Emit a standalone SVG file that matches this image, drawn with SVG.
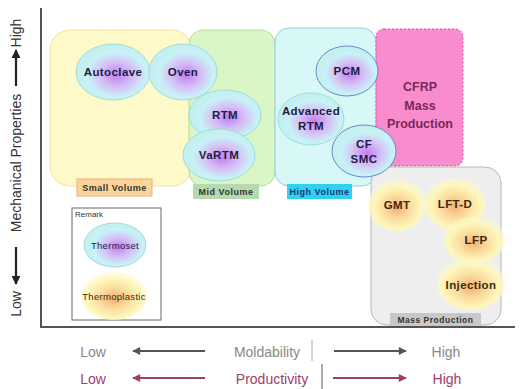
<svg xmlns="http://www.w3.org/2000/svg" width="520" height="389" viewBox="0 0 520 389">
<defs>
<radialGradient id="ts" cx="0.55" cy="0.55" r="0.5">
<stop offset="0" stop-color="#c07ef0"/>
<stop offset="0.45" stop-color="#d6c0f6"/>
<stop offset="0.8" stop-color="#c8f2f6"/>
<stop offset="1" stop-color="#c4f0f0"/>
</radialGradient>
<radialGradient id="tp" cx="0.5" cy="0.55" r="0.5">
<stop offset="0" stop-color="#f6b070"/>
<stop offset="0.45" stop-color="#fbdca0"/>
<stop offset="0.8" stop-color="#fdf6b8"/>
<stop offset="1" stop-color="#fdf8c8" stop-opacity="0.6"/>
</radialGradient>
<marker id="ag" viewBox="0 0 10 10" refX="9" refY="5" markerWidth="5" markerHeight="4" orient="auto-start-reverse">
<path d="M0,0 L10,5 L0,10 z" fill="#555"/>
</marker>
<marker id="ap" viewBox="0 0 10 10" refX="9" refY="5" markerWidth="5" markerHeight="4" orient="auto-start-reverse">
<path d="M0,0 L10,5 L0,10 z" fill="#a23c6a"/>
</marker>
<marker id="ay" viewBox="0 0 10 10" refX="9" refY="5" markerWidth="4" markerHeight="4.5" orient="auto-start-reverse">
<path d="M0,0 L10,5 L0,10 z" fill="#222"/>
</marker>
</defs>
<style>
text{font-family:"Liberation Sans",Arial,sans-serif}
.ell{fill:url(#ts);stroke:#9edcdc;stroke-width:1}
.elt{fill:url(#tp);stroke:none}
.nt{font-size:11.5px;font-weight:bold;fill:#1c1c44;text-anchor:middle;letter-spacing:0.4px}
.lab{font-size:9px;font-weight:bold;fill:#333;text-anchor:middle;letter-spacing:0.5px}
.ax{font-size:14px;text-anchor:middle}
</style>
<rect width="520" height="389" fill="#fff"/>
<!-- axes -->
<g id="axes" stroke="#555" stroke-width="2" fill="none">
<path d="M41,8 V327 H515"/>
</g>
<g id="yaxis-label">
<text class="ax" transform="translate(21,163) rotate(-90)" fill="#333">Mechanical Properties</text>
<text class="ax" transform="translate(21,304) rotate(-90)" fill="#333">Low</text>
<text class="ax" transform="translate(21,33) rotate(-90)" fill="#333">High</text>
<line x1="16" y1="247" x2="16" y2="284" stroke="#222" stroke-width="2.2" marker-end="url(#ay)"/>
<line x1="16" y1="86" x2="16" y2="50" stroke="#222" stroke-width="2.2" marker-end="url(#ay)"/>
</g>
<!-- regions -->
<g id="small-volume">
<rect x="50" y="30" width="142" height="156" rx="20" fill="#fdf9c8" stroke="#f2e0a4"/>
</g>
<g id="mid-volume">
<rect x="189" y="30" width="86" height="156" rx="14" fill="#daf5c6" stroke="#b4dca0"/>
</g>
<g id="high-volume">
<rect x="275" y="28" width="101" height="158" rx="14" fill="#d8f8f8" stroke="#94cce0"/>
</g>
<g id="cfrp-mass-production">
<rect x="376" y="29" width="87" height="137" rx="8" fill="#f98ccc" stroke="#e040a8" stroke-dasharray="2,2"/>
<text x="420" y="91" class="nt" style="fill:#7a2858;font-size:12.5px;letter-spacing:0">CFRP</text>
<text x="420" y="110" class="nt" style="fill:#7a2858;font-size:12.5px;letter-spacing:0">Mass</text>
<text x="420" y="128" class="nt" style="fill:#7a2858;font-size:12.5px;letter-spacing:0">Production</text>
</g>
<g id="mass-production">
<rect x="371" y="167" width="130" height="158" rx="16" fill="#eeeeee" stroke="#b8b8b8"/>
</g>
<!-- region labels -->
<g id="small-volume-label">
<rect x="77" y="179" width="75" height="17" fill="#fbd49a" stroke="#efb074"/>
<text x="114.5" y="191" class="lab">Small Volume</text>
</g>
<g id="mid-volume-label">
<rect x="193" y="184" width="66" height="15" fill="#b6dab0"/>
<text x="226" y="195" class="lab">Mid Volume</text>
</g>
<g id="high-volume-label">
<rect x="287" y="184" width="65" height="15" fill="#30d0f2"/>
<text x="319.5" y="195" class="lab" style="fill:#1a3a70">High Volume</text>
</g>
<g id="mass-production-label">
<rect x="390" y="313" width="91" height="13" fill="#c8c8c8"/>
<text x="435.5" y="323" class="lab" style="font-size:8.5px">Mass Production</text>
</g>
<!-- thermoset nodes -->
<g id="autoclave"><ellipse cx="113" cy="72" rx="37" ry="28" class="ell"/><text x="113" y="76" class="nt">Autoclave</text></g>
<g id="oven"><ellipse cx="183" cy="72" rx="34" ry="28" class="ell"/><text x="183" y="76" class="nt">Oven</text></g>
<g id="rtm"><ellipse cx="225" cy="115" rx="36" ry="25" class="ell"/><text x="225" y="119" class="nt">RTM</text></g>
<g id="vartm"><ellipse cx="219" cy="155" rx="36" ry="26" class="ell"/><text x="219" y="159" class="nt">VaRTM</text></g>
<g id="pcm"><ellipse cx="347" cy="71" rx="31" ry="25" class="ell" style="stroke:#6a88c8"/><text x="347" y="75" class="nt">PCM</text></g>
<g id="advanced-rtm"><ellipse cx="311" cy="119" rx="33" ry="26" class="ell"/><text x="311" y="115" class="nt">Advanced</text><text x="311" y="130" class="nt">RTM</text></g>
<g id="cf-smc"><ellipse cx="364" cy="151" rx="32" ry="26" class="ell" style="stroke:#6a88c8"/><text x="364" y="148" class="nt">CF</text><text x="364" y="163" class="nt">SMC</text></g>
<!-- thermoplastic nodes -->
<g id="gmt"><ellipse cx="397" cy="205" rx="29" ry="26" class="elt"/><text x="397" y="209" class="nt" style="fill:#3a2a10">GMT</text></g>
<g id="lft-d"><ellipse cx="455" cy="204" rx="31" ry="26" class="elt"/><text x="455" y="208" class="nt" style="fill:#3a2a10">LFT-D</text></g>
<g id="lfp"><ellipse cx="474" cy="240" rx="31" ry="23" class="elt"/><text x="476" y="244" class="nt" style="fill:#3a2a10">LFP</text></g>
<g id="injection"><ellipse cx="471" cy="284" rx="34" ry="26" class="elt"/><text x="471" y="289" class="nt" style="fill:#3a2a10">Injection</text></g>
<!-- remark -->
<g id="remark">
<rect x="72" y="208" width="89" height="112" fill="#fff" stroke="#666"/>
<text x="75" y="217" style="font-size:8px;fill:#333">Remark</text>
<ellipse cx="115" cy="245" rx="31" ry="22" class="ell"/>
<text x="115" y="248.5" class="nt" style="font-size:9.5px;font-weight:normal;letter-spacing:0.3px">Thermoset</text>
<ellipse cx="114" cy="296" rx="33" ry="24" class="elt"/>
<text x="114" y="299.5" class="nt" style="font-size:9.5px;font-weight:normal;letter-spacing:0.3px;fill:#3a2a10">Thermoplastic</text>
</g>
<!-- x axis legend -->
<g id="connectors">
<line x1="205" y1="351" x2="133" y2="351" stroke="#555" stroke-width="2" marker-end="url(#ag)"/>
<line x1="334" y1="351" x2="406" y2="351" stroke="#555" stroke-width="2" marker-end="url(#ag)"/>
<line x1="205" y1="378" x2="133" y2="378" stroke="#a23c6a" stroke-width="2" marker-end="url(#ap)"/>
<line x1="333" y1="378" x2="406" y2="378" stroke="#a23c6a" stroke-width="2" marker-end="url(#ap)"/>
<line x1="312" y1="340" x2="312" y2="361" stroke="#aaa" stroke-width="1"/>
<line x1="322" y1="364" x2="322" y2="389" stroke="#555" stroke-width="1"/>
</g>
<g id="moldability">
<text x="93" y="357" class="ax" fill="#888">Low</text>
<text x="267" y="357" class="ax" fill="#888">Moldability</text>
<text x="446" y="357" class="ax" fill="#888">High</text>
</g>
<g id="productivity">
<text x="93" y="384" class="ax" fill="#a23c6a">Low</text>
<text x="272" y="384" class="ax" fill="#a23c6a">Productivity</text>
<text x="447" y="384" class="ax" fill="#a23c6a">High</text>
</g>
</svg>
